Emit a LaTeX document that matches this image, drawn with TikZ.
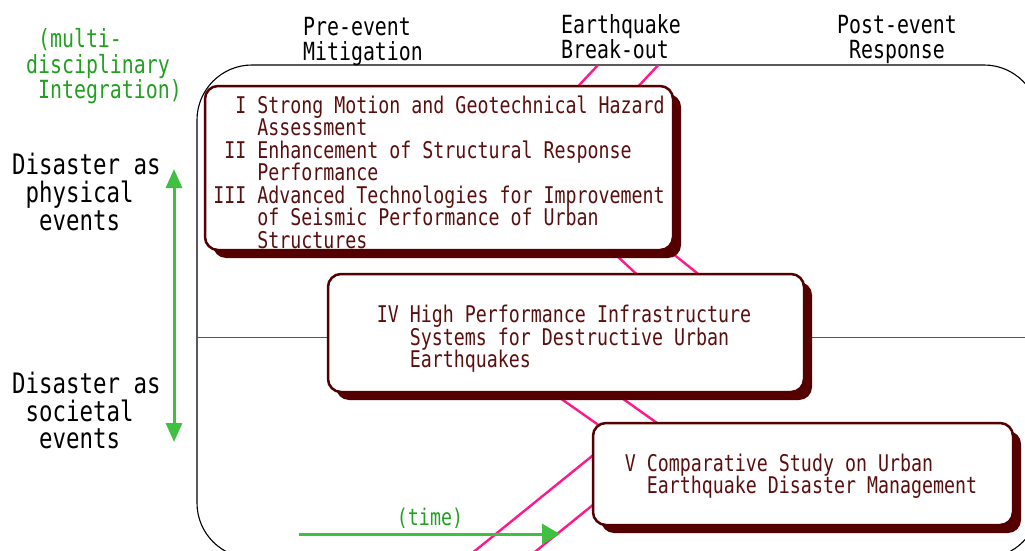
\documentclass[tikz,border=0pt]{standalone}
\usepackage{fontspec}
\newfontfamily\gothic[FakeStretch=0.795]{DejaVu Sans Mono}
\usetikzlibrary{arrows.meta,shadows}
\definecolor{maroon}{HTML}{550000}
\definecolor{boxtext}{HTML}{5A0F0F}
\definecolor{quake}{HTML}{FF1A8C}
\definecolor{arrowgreen}{HTML}{40C040}
\definecolor{labelgreen}{HTML}{22A022}
\definecolor{divider}{HTML}{555555}
\tikzset{
  hdr/.style={font=\gothic\fontsize{25}{25}\selectfont, inner sep=0pt, anchor=base west},
  hdrc/.style={hdr, anchor=base},
  grnlab/.style={hdr, text=labelgreen},
  sidelab/.style={font=\gothic\fontsize{28.2}{28}\selectfont, inner sep=0pt, anchor=base west},
  qbox/.style={draw=maroon, line width=2.5pt, fill=white, rounded corners=13pt, inner sep=0pt,
    drop shadow={shadow xshift=8pt, shadow yshift=-8pt, fill=maroon, opacity=1}},
  boxtxt/.style={text=boxtext, font=\gothic\fontsize{23}{22.5}\selectfont, align=left, inner sep=0pt},
  quakeline/.style={quake, line width=2.4pt, line join=round},
  greenarrow/.style={arrowgreen, line width=3pt}
}
\begin{document}
\begin{tikzpicture}[x=1pt,y=-1pt]
\useasboundingbox (0,0) rectangle (1025,551);
\clip (0,0) rectangle (1025,551);
\fill[white] (0,0) rectangle (1025,551);
% frame and divider
\draw[line width=1.1pt, rounded corners=55pt] (197,65) rectangle (1039,558);
\draw[divider, line width=1pt] (197,337) -- (1039,337);
% earthquake lines
\draw[quakeline] (598,65) -- (511.4,157.6) -- (645,282) -- (543,386) -- (615.5,437) -- (455,567);
\draw[quakeline] (658.3,65) -- (563.6,166.3) -- (707,281) -- (605,386) -- (676.7,437) -- (520,564);
% arrows
\coordinate (vA) at (174,169);
\coordinate (vB) at (174,442);
\coordinate (tA) at (299,534);
\coordinate (tB) at (560,534);
\draw[greenarrow, {Triangle[length=19pt,width=16pt]}-{Triangle[length=19pt,width=16pt]}] (vA) -- (vB);
\draw[greenarrow, -{Triangle[length=18pt,width=20pt]}] (tA) -- (tB);
% header labels
\node[hdr] (pre1) at (303,36) {Pre-event};
\node[hdr] (pre2) at (303,61) {Mitigation};
\node[hdr] (eq1) at (561,34) {Earthquake};
\node[hdr] (eq2) at (561,59) {Break-out};
\node[hdrc] (post1) at (897,34) {Post-event};
\node[hdrc] (post2) at (897,59) {Response};
% green labels
\node[grnlab] (g1) at (26,48) {\hphantom{x}(multi-};
\node[grnlab] (g2) at (26,74) {disciplinary};
\node[grnlab] (g3) at (26,99) {\hphantom{x}Integration)};
\node[font=\gothic\fontsize{23}{23}\selectfont, text=labelgreen, inner sep=0pt, anchor=base] (time) at (430,525) {(time)};
% side labels
\node[sidelab] (p1) at (12,174) {Disaster as};
\node[sidelab] (p2) at (12,202) {\hphantom{x}physical};
\node[sidelab] (p3) at (12,230) {\hphantom{xx}events};
\node[sidelab] (s1) at (12,393) {Disaster as};
\node[sidelab] (s2) at (12,421) {\hphantom{x}societal};
\node[sidelab] (s3) at (12,448) {\hphantom{xx}events};
% boxes
\node[qbox, minimum width=468pt, minimum height=164pt] (b1) at (439,168) {};
\node[boxtxt] (t1) at ([yshift=-4pt]b1.center) {%
\hphantom{II}I Strong Motion and Geotechnical Hazard\\
\hphantom{IIIx}Assessment\\
\hphantom{I}II Enhancement of Structural Response\\
\hphantom{IIIx}Performance\\
III Advanced Technologies for Improvement\\
\hphantom{IIIx}of Seismic Performance of Urban\\
\hphantom{IIIx}Structures};
\node[qbox, minimum width=476pt, minimum height=118pt] (b4) at (566,333) {};
\node[boxtxt] (t4) at ([xshift=-2pt,yshift=-6pt]b4.center) {%
IV High Performance Infrastructure\\
\hphantom{IVx}Systems for Destructive Urban\\
\hphantom{IVx}Earthquakes};
\node[qbox, minimum width=420pt, minimum height=102pt] (b5) at (803,474) {};
\node[boxtxt] (t5) at ([xshift=-2pt,yshift=-2pt]b5.center) {%
V Comparative Study on Urban\\
\hphantom{Vx}Earthquake Disaster Management};
\end{tikzpicture}
\end{document}
